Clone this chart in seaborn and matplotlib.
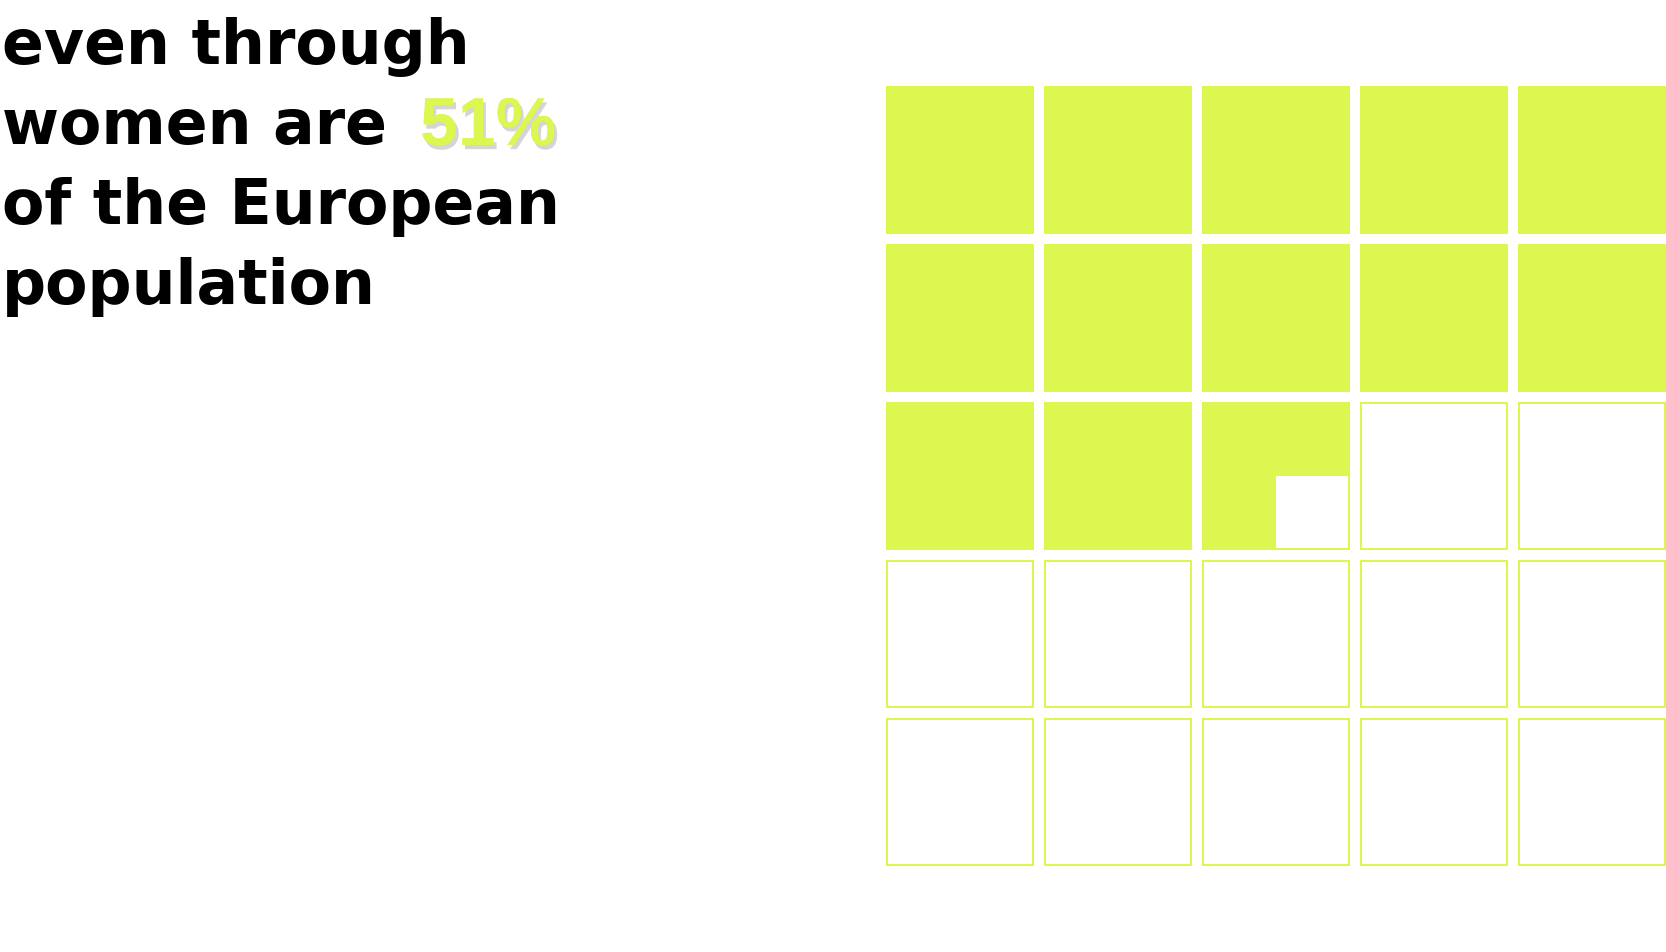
import matplotlib
matplotlib.use("Agg")
import numpy as np
import seaborn as sns
import matplotlib.pyplot as plt
import matplotlib.patheffects as pe
from matplotlib.colors import ListedColormap
from matplotlib.patches import Rectangle

# data
headline = ["even through", "women are", "of the European", "population"]
share_label = "51%"
share_pct = 51
grid_rows = 5
grid_cols = 5

lime = "#ddf750"
W, H = 1666, 952

sns.set_theme(style="white")
plt.rcParams["font.family"] = ["DejaVu Sans"]

# every waffle cell = 4 %, split into 2x2 quarters of 1 % each
quarters = np.zeros((grid_rows * 2, grid_cols * 2))
n = 0
for r in range(grid_rows):
    for c in range(grid_cols):
        for qr in range(2):
            for qc in range(2):
                if n < share_pct:
                    quarters[r * 2 + qr, c * 2 + qc] = 1
                n += 1

fig = plt.figure(figsize=(W / 100, H / 100), dpi=100)
fig.patch.set_facecolor("white")

ax = fig.add_axes([881 / W, (H - 871) / H, 790 / W, 790 / H])
sns.heatmap(quarters, ax=ax, cmap=ListedColormap(["white", lime]), vmin=0, vmax=1,
            cbar=False, xticklabels=False, yticklabels=False)

# white gaps between the cells
for k in range(0, grid_cols * 2 + 1, 2):
    ax.axvline(k, color="white", lw=7.2, zorder=3)
for k in range(0, grid_rows * 2 + 1, 2):
    ax.axhline(k, color="white", lw=7.2, zorder=3)

# thin outline round each cell
off = 6 / 79
for r in range(grid_rows):
    for c in range(grid_cols):
        ax.add_patch(Rectangle((c * 2 + off, r * 2 + off), 2 - 2 * off, 2 - 2 * off,
                               fill=False, edgecolor=lime, lw=1.44, zorder=4))
ax.axis("off")

for i, line in enumerate(headline):
    fig.text(2 / W, 1 - (64 + 80 * i) / H, line, fontsize=44.5, fontweight="bold",
             color="black", va="baseline", ha="left")

fig.text(420 / W, 1 - 145 / H, share_label, fontsize=49, fontweight="bold", color=lime,
         family="Liberation Sans", va="baseline", ha="left",
         path_effects=[pe.SimplePatchShadow(offset=(2, -3), shadow_rgbFace="#777777", alpha=0.3),
                       pe.Normal()])

fig.savefig("out.png", dpi=100, facecolor="white")
